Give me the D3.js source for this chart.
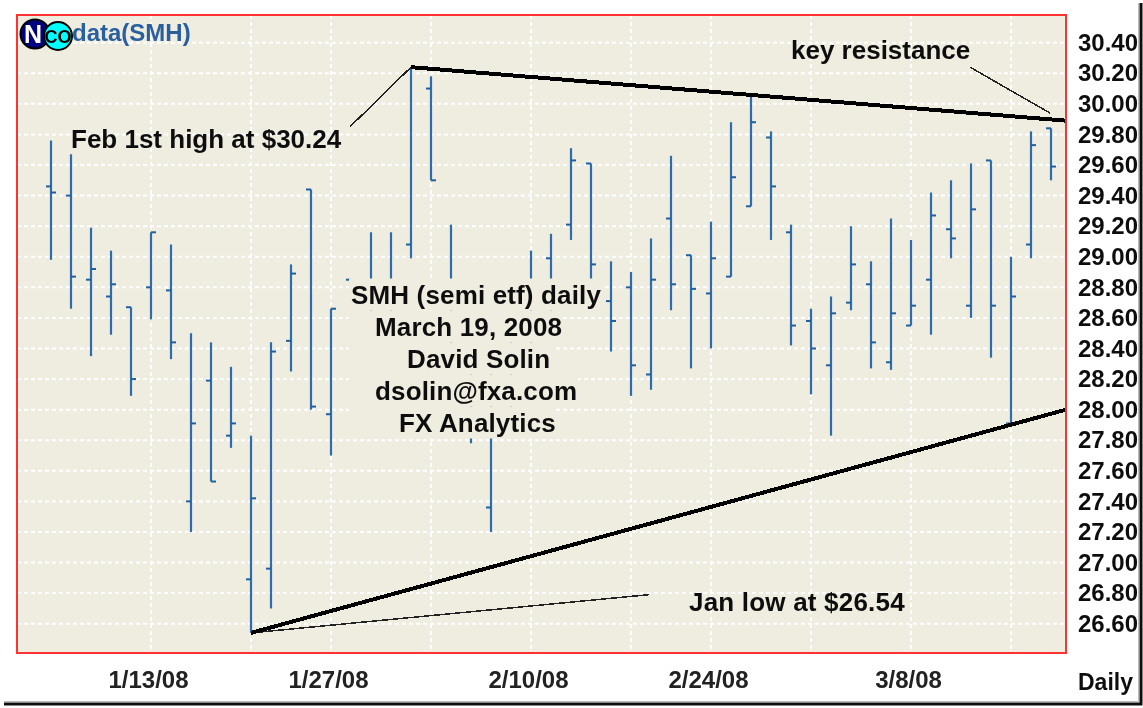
<!DOCTYPE html>
<html>
<head>
<meta charset="utf-8">
<script src="https://cdn.jsdelivr.net/npm/d3@7"></script>
<style>
  body { margin: 0; background: #fff; }
  text { font-family: "Liberation Sans", Arial, sans-serif; font-weight: bold; }
</style>
</head>
<body>
<div class="chart"></div>
<script>
//trading days, one bar each
var dates = ['1/7/08','1/8/08','1/9/08','1/10/08','1/11/08','1/14/08','1/15/08','1/16/08','1/17/08','1/18/08',
  '1/22/08','1/23/08','1/24/08','1/25/08','1/28/08','1/29/08','1/30/08','1/31/08','2/1/08','2/4/08',
  '2/5/08','2/6/08','2/7/08','2/8/08','2/11/08','2/12/08','2/13/08','2/14/08','2/15/08','2/19/08',
  '2/20/08','2/21/08','2/22/08','2/25/08','2/26/08','2/27/08','2/28/08','2/29/08','3/3/08','3/4/08',
  '3/5/08','3/6/08','3/7/08','3/10/08','3/11/08','3/12/08','3/13/08','3/14/08','3/17/08','3/18/08','3/19/08'];

//values (the ones behind the text boxes are guesses)
var opens = [29.46,29.40,28.85,28.74,28.67,28.80,28.78,27.40,28.19,27.83,
  26.89,26.96,28.45,29.44,27.97,28.85,28.80,28.72,29.08,30.10,
  28.50,28.10,27.36,28.20,28.70,28.99,29.21,29.61,28.71,28.80,
  28.23,29.25,29.01,28.76,28.87,29.33,29.78,29.16,28.58,28.29,
  28.70,28.82,28.31,28.55,28.85,29.18,28.68,29.63,27.91,29.08,29.84];
var highs = [29.76,29.67,29.19,29.04,28.67,29.16,29.08,28.50,28.44,28.28,
  27.83,28.44,28.95,29.44,28.66,28.85,29.16,29.16,30.24,30.18,
  29.21,28.40,28.30,28.60,29.04,29.15,29.71,29.61,28.97,28.90,
  29.12,29.66,29.01,29.23,29.88,30.05,29.82,29.21,28.66,28.74,
  29.20,28.97,29.25,29.11,29.42,29.50,29.61,29.63,29.00,29.82,29.84];
var lows = [28.98,28.66,28.35,28.49,28.09,28.59,28.33,27.20,27.53,27.75,
  26.54,26.70,28.25,28.00,27.70,28.70,28.55,28.50,28.99,29.50,
  28.30,27.78,27.20,27.90,28.40,28.50,29.11,28.75,28.38,28.09,
  28.13,28.65,28.27,28.40,28.87,29.33,29.11,28.42,28.10,27.83,
  28.65,28.27,28.26,28.55,28.49,28.99,28.60,28.34,27.91,28.99,29.50];
var closes = [29.42,28.87,28.92,28.82,28.20,29.16,28.44,27.91,27.53,27.91,
  27.42,28.38,28.89,28.02,28.66,28.75,28.70,28.82,30.24,29.50,
  28.60,27.90,27.90,28.30,28.60,28.70,29.63,28.95,28.58,28.29,
  28.85,28.82,28.79,28.99,29.52,29.88,29.46,28.55,28.40,28.63,
  28.95,28.44,28.63,28.68,29.27,29.12,29.31,28.68,28.74,29.73,29.59];

//axes
var priceTicks = [26.6,26.8,27.0,27.2,27.4,27.6,27.8,28.0,28.2,28.4,28.6,28.8,29.0,29.2,29.4,29.6,29.8,30.0,30.2,30.4];
var gridDates = ['1/14/08','1/22/08','1/28/08','2/4/08','2/11/08','2/19/08','2/25/08','3/3/08','3/10/08','3/17/08'];
var labelDates = ['1/14/08','1/28/08','2/11/08','2/25/08','3/10/08'];
var labelTexts = ['1/13/08','1/27/08','2/10/08','2/24/08','3/8/08'];

//trend lines, as [bar number, price]
var resistance = [[18, 30.24], [50.75, 29.89]];
var support = [[10, 26.54], [50.75, 28.0]];
var pointers = [
  [[14.95, 29.85], [18, 30.24]],
  [[45.95, 30.24], [49.95, 29.94]],
  [[10, 26.54], [29.9, 26.79]]
];

//text boxes in the middle, leading spaces moved to the offsets
var noteLines = ['SMH (semi etf) daily', 'March 19, 2008', 'David Solin', 'dsolin@fxa.com', 'FX Analytics'];
var noteLeft = [351, 375, 407, 375, 399];
var noteRight = [605, 562, 553, 578, 555];

var width = 1143, height = 708;
var plot = {left: 17, right: 1066, top: 15, bottom: 653};

var root = d3.select('.chart').append('svg')
  .attr('width', width)
  .attr('height', height)
  .style('display', 'block');

//the reference is a slightly soft screenshot
root.append('filter')
  .attr('id', 'soft')
  .attr('filterUnits', 'userSpaceOnUse')
  .attr('x', 0).attr('y', 0).attr('width', width).attr('height', height)
  .append('feGaussianBlur')
    .attr('stdDeviation', 0.35);

var svg = root.append('g').attr('filter', 'url(#soft)');

//bars sit 20px apart, so a plain linear scale over bar number
var x = d3.scaleLinear().domain([0, dates.length - 1]).range([51, 1051]);
var xDate = function(d){ return x(dates.indexOf(d)); };
var y = d3.scaleLinear().domain([26.6, 30.4]).range([623.7, 42.7]);

//white page behind everything so the blur has something to sit on
svg.append('rect').attr('width', width).attr('height', height).attr('fill', '#fff');

//outer window edge
svg.append('path')
  .attr('d', 'M1141,3V704H4')
  .attr('fill', 'none')
  .attr('stroke', '#111')
  .attr('stroke-width', 3);
svg.append('path')
  .attr('d', 'M1138.5,3V701.5H4')
  .attr('fill', 'none')
  .attr('stroke', '#bbb')
  .attr('stroke-width', 1);

//panel
svg.append('rect')
  .attr('x', plot.left)
  .attr('y', plot.top)
  .attr('width', plot.right - plot.left)
  .attr('height', plot.bottom - plot.top)
  .attr('fill', '#efede0');

//grid
svg.append('g').selectAll('line')
  .data(priceTicks)
  .enter().append('line')
    .attr('x1', plot.left)
    .attr('x2', plot.right)
    .attr('y1', function(d){ return y(d); })
    .attr('y2', function(d){ return y(d); })
    .attr('stroke', '#fff')
    .attr('stroke-width', 2)
    .attr('stroke-dasharray', '4 3');
svg.append('g').selectAll('line')
  .data(gridDates)
  .enter().append('line')
    .attr('x1', xDate)
    .attr('x2', xDate)
    .attr('y1', plot.top)
    .attr('y2', plot.bottom)
    .attr('stroke', '#fff')
    .attr('stroke-width', 2)
    .attr('stroke-dasharray', '4 3');

//ohlc bars
var bars = svg.append('g').selectAll('g')
  .data(dates)
  .enter().append('g')
    .attr('stroke', '#2e6dad');
bars.append('line')
  .attr('x1', function(d, i){ return x(i); })
  .attr('x2', function(d, i){ return x(i); })
  .attr('y1', function(d, i){ return y(highs[i]); })
  .attr('y2', function(d, i){ return y(lows[i]); })
  .attr('stroke-width', 2.2);
bars.append('line')
  .attr('x1', function(d, i){ return x(i) - 5; })
  .attr('x2', function(d, i){ return x(i); })
  .attr('y1', function(d, i){ return y(opens[i]); })
  .attr('y2', function(d, i){ return y(opens[i]); })
  .attr('stroke', '#225f9f')
  .attr('stroke-width', 2);
bars.append('line')
  .attr('x1', function(d, i){ return x(i); })
  .attr('x2', function(d, i){ return x(i) + 5; })
  .attr('y1', function(d, i){ return y(closes[i]); })
  .attr('y2', function(d, i){ return y(closes[i]); })
  .attr('stroke', '#225f9f')
  .attr('stroke-width', 2);

//middle note, each line has its own box that hides what is behind it
var note = svg.append('g').selectAll('g')
  .data(noteLines)
  .enter().append('g');
note.append('rect')
  .attr('x', 349)
  .attr('y', function(d, i){ return 278.5 + i * 32; })
  .attr('width', function(d, i){ return noteRight[i] - 349; })
  .attr('height', 32)
  .attr('fill', '#efede0');
note.append('text')
  .attr('x', function(d, i){ return noteLeft[i]; })
  .attr('y', function(d, i){ return 304 + i * 32; })
  .attr('font-size', 26)
  .attr('letter-spacing', 0.15)
  .attr('fill', '#111')
  .text(function(d){ return d; });

//trend lines
var line = d3.line()
  .x(function(d){ return x(d[0]); })
  .y(function(d){ return y(d[1]); });
svg.append('g').selectAll('path')
  .data(pointers)
  .enter().append('path')
    .attr('d', line)
    .attr('fill', 'none')
    .attr('stroke', '#222')
    .attr('stroke-width', 1.5)
    .attr('shape-rendering', 'crispEdges');
svg.append('g').selectAll('path')
  .data([resistance, support])
  .enter().append('path')
    .attr('d', line)
    .attr('fill', 'none')
    .attr('stroke', '#000')
    .attr('stroke-width', 4)
    .attr('shape-rendering', 'crispEdges');

//red frame
svg.append('rect')
  .attr('x', plot.left)
  .attr('y', plot.top)
  .attr('width', plot.right - plot.left)
  .attr('height', plot.bottom - plot.top)
  .attr('fill', 'none')
  .attr('stroke', '#f33')
  .attr('stroke-width', 2);

//price axis
var yAxis = svg.append('g')
  .attr('transform', 'translate(1138,0)')
  .call(d3.axisLeft(y).tickValues(priceTicks).tickSize(0).tickPadding(0).tickFormat(d3.format('.2f')));
yAxis.select('.domain').remove();
yAxis.selectAll('text')
  .attr('font-size', 24)
  .attr('fill', '#111');

//date axis
var xAxis = svg.append('g')
  .attr('transform', 'translate(-3,688)')
  .call(d3.axisBottom(x)
    .tickValues(labelDates.map(function(d){ return dates.indexOf(d); }))
    .tickSize(0).tickPadding(0)
    .tickFormat(function(d, i){ return labelTexts[i]; }));
xAxis.select('.domain').remove();
xAxis.selectAll('text')
  .attr('dy', 0)
  .attr('font-size', 24)
  .attr('fill', '#222');

svg.append('text').attr('x', 1078).attr('y', 690).attr('font-size', 23).attr('fill', '#111').text('Daily');

//annotations
svg.append('text').attr('x', 71).attr('y', 148).attr('font-size', 26).attr('fill', '#111').text('Feb 1st high at $30.24');
svg.append('text').attr('x', 791).attr('y', 59).attr('font-size', 26).attr('fill', '#111').text('key resistance');
svg.append('text').attr('x', 689).attr('y', 611).attr('font-size', 26).attr('letter-spacing', 0.2).attr('fill', '#111').text('Jan low at $26.54');

//title and logo
svg.append('text').attr('x', 72).attr('y', 41).attr('font-size', 24).attr('fill', '#2a5f9e').text('data(SMH)');
svg.append('circle').attr('cx', 35).attr('cy', 34).attr('r', 14.5).attr('fill', '#000080').attr('stroke', '#000').attr('stroke-width', 2);
svg.append('text').attr('x', 33).attr('y', 43).attr('text-anchor', 'middle').attr('font-size', 25).attr('fill', '#fff').text('N');
svg.append('circle').attr('cx', 58).attr('cy', 36).attr('r', 14).attr('fill', '#00ffff').attr('stroke', '#000').attr('stroke-width', 2);
svg.append('text').attr('x', 58).attr('y', 43).attr('text-anchor', 'middle').attr('font-size', 18).attr('fill', '#000').text('CO');
</script>
</body>
</html>
